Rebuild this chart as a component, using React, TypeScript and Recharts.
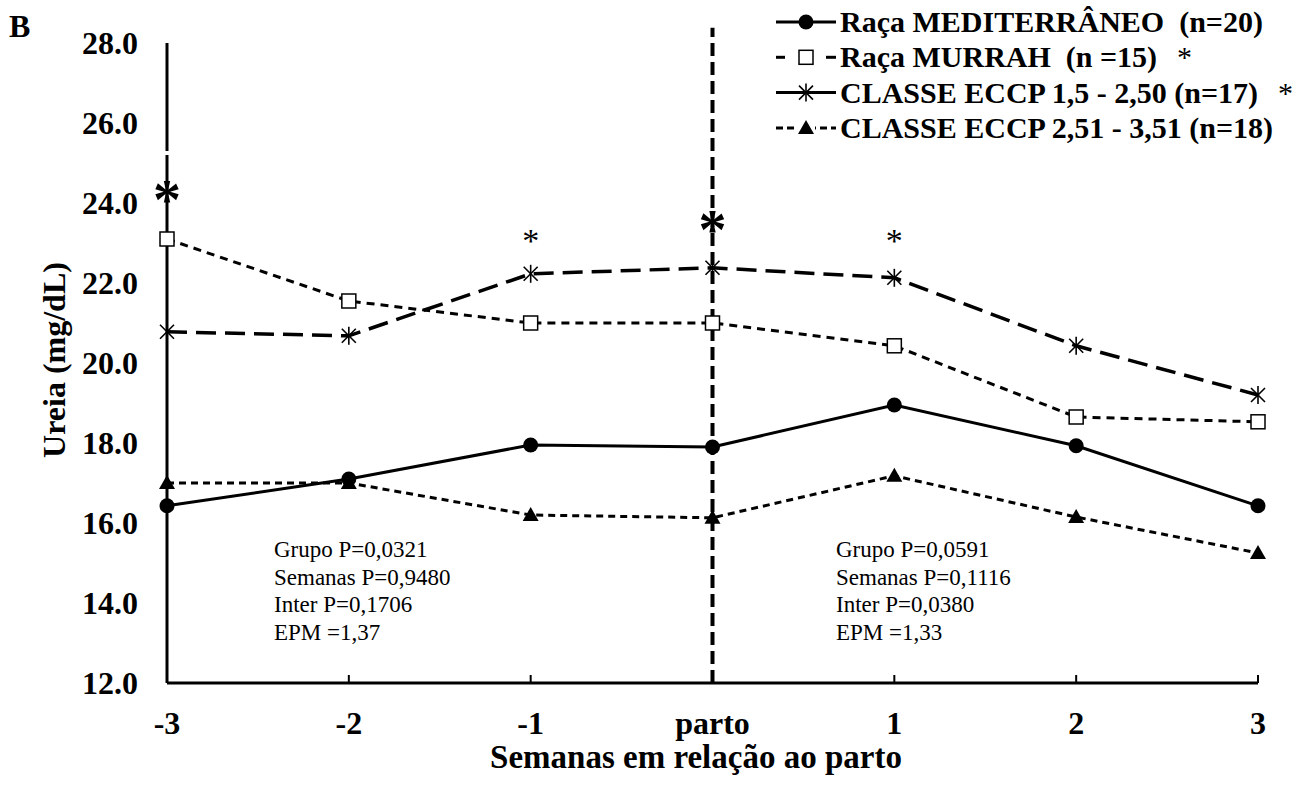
import React from 'react';
import { LineChart, Line, XAxis, YAxis, ReferenceLine, ReferenceDot, Legend, Label } from 'recharts';

const weeks = ['-3', '-2', '-1', 'parto', '1', '2', '3'];
const mediterraneo = [16.43, 17.1, 17.95, 17.9, 18.95, 17.93, 16.43];
const murrah = [23.1, 21.55, 21.0, 21.0, 20.43, 18.65, 18.53];
const eccp1 = [20.78, 20.68, 22.23, 22.38, 22.13, 20.43, 19.2];
const eccp2 = [17.0, 17.0, 16.2, 16.13, 17.18, 16.15, 15.25];
const yTicks = [12, 14, 16, 18, 20, 22, 24, 26, 28];
const seriesNames = [
  'Raça MEDITERRÂNEO\u00a0\u00a0(n=20)',
  'Raça MURRAH\u00a0\u00a0(n =15)',
  'CLASSE ECCP 1,5 - 2,50 (n=17)',
  'CLASSE ECCP 2,51 - 3,51 (n=18)',
];
const legendStars = [false, true, true, false];
const bigStars = [
  { x: '-3', y: 24.28 },
  { x: 'parto', y: 23.53 },
];
const smallStars = [
  { x: '-1', y: 23.18 },
  { x: '1', y: 23.18 },
];
const statsLeft = ['Grupo P=0,0321', 'Semanas P=0,9480', 'Inter P=0,1706', 'EPM =1,37'];
const statsRight = ['Grupo P=0,0591', 'Semanas P=0,1116', 'Inter P=0,0380', 'EPM =1,33'];
const panelLetter = 'B';
const xTitle = 'Semanas em relação ao parto';
const yTitle = 'Ureia (mg/dL)';

const FONT = '"Liberation Serif", "Times New Roman", serif';

const circleMark = (cx: number, cy: number, k: string) => (
  <circle key={k} cx={cx} cy={cy} r={7.5} fill="#000" />
);
const squareMark = (cx: number, cy: number, k: string) => (
  <rect key={k} x={cx - 7} y={cy - 7} width={14} height={14} fill="#fff" stroke="#000" strokeWidth={1.5} />
);
const starMark = (cx: number, cy: number, k: string) => (
  <g key={k} stroke="#000" strokeWidth={1.6}>
    <line x1={cx - 7} y1={cy - 7} x2={cx + 7} y2={cy + 7} />
    <line x1={cx - 7} y1={cy + 7} x2={cx + 7} y2={cy - 7} />
    <line x1={cx} y1={cy - 9} x2={cx} y2={cy + 9} />
  </g>
);
const triMark = (cx: number, cy: number, k: string) => (
  <polygon key={k} points={`${cx},${cy - 8} ${cx - 8},${cy + 6} ${cx + 8},${cy + 6}`} fill="#000" />
);

const markers = [circleMark, squareMark, starMark, triMark];
const dashes = [undefined, '8 6', '20 9', '7 5'];
const widths = [3, 3, 3.5, 3];

const renderLegend = () => (
  <svg width={541} height={150}>
    {seriesNames.map((name, i) => {
      const y = 22 + i * 35.3;
      return (
        <g key={name}>
          {i === 1 ? (
            <g stroke="#000" strokeWidth={3}>
              <line x1={6} x2={15} y1={y} y2={y} />
              <line x1={56} x2={66} y1={y} y2={y} />
            </g>
          ) : (
            <line x1={6} x2={66} y1={y} y2={y} stroke="#000" strokeWidth={3} strokeDasharray={i === 3 ? '7 4' : undefined} />
          )}
          {i === 3 ? <rect x={27} y={y - 9} width={18} height={18} fill="#fff" /> : null}
          {markers[i](36, y, 'm' + i)}
          <text x={70} y={y + 10} fontFamily={FONT} fontWeight="bold" fontSize={30} fill="#000">
            {name}
            {legendStars[i] ? (
              <tspan fontWeight="normal" dx={20}>*</tspan>
            ) : null}
          </text>
        </g>
      );
    })}
  </svg>
);

const bigStarShape = (p: any) => (
  <text x={p.cx} y={p.cy + 27} textAnchor="middle" fontFamily={FONT} fontWeight="bold" fontSize={56} fill="#000">*</text>
);
const smallStarShape = (p: any) => (
  <text x={p.cx} y={p.cy + 16} textAnchor="middle" fontFamily={FONT} fontSize={34} fill="#000">*</text>
);

export default function App() {
  const data = weeks.map((w, i) => ({
    week: w,
    med: mediterraneo[i],
    mur: murrah[i],
    e1: eccp1[i],
    e2: eccp2[i],
  }));
  const keys = ['med', 'mur', 'e1', 'e2'];
  return (
    <div style={{ position: 'absolute', left: 0, top: 0, width: 1311, height: 785, background: '#fff' }}>
      <LineChart width={1311} height={785} data={data} margin={{ top: 43, right: 53, bottom: 0, left: 0 }}>
        <XAxis
          dataKey="week"
          interval={0}
          height={102}
          axisLine={{ stroke: '#000', strokeWidth: 3 }}
          tickLine={{ stroke: '#000', strokeWidth: 2 }}
          tickSize={-8}
          tickMargin={36}
          tick={{ fill: '#000', fontSize: 32, fontWeight: 'bold', fontFamily: FONT }}
        >
          <Label
            content={(props: any) => {
              const vb = props.viewBox || {};
              return (
                <text x={696} y={(vb.y || 683) + 85} textAnchor="middle" fontFamily={FONT} fontWeight="bold" fontSize={33} fill="#000">
                  {xTitle}
                </text>
              );
            }}
          />
        </XAxis>
        <YAxis
          domain={[12, 28]}
          ticks={yTicks}
          width={167}
          axisLine={false}
          tickLine={false}
          tickSize={0}
          tickMargin={29}
          tickFormatter={(v: number) => v.toFixed(1)}
          tick={{ fill: '#000', fontSize: 32, fontWeight: 'bold', fontFamily: FONT }}
        >
          <Label
            content={() => (
              <text x={54} y={360} transform="rotate(-90, 54, 360)" textAnchor="middle" dominantBaseline="central" fontFamily={FONT} fontWeight="bold" fontSize={32} fill="#000">
                {yTitle}
              </text>
            )}
          />
        </YAxis>
        <ReferenceLine segment={[{ x: '-3', y: 12 }, { x: '-3', y: 25.2 }]} stroke="#000" strokeWidth={3} />
        <ReferenceLine segment={[{ x: '-3', y: 25.3 }, { x: '-3', y: 28 }]} stroke="#000" strokeWidth={3} />
        <ReferenceLine
          segment={[{ x: 'parto', y: 12 }, { x: 'parto', y: 28.38 }]}
          stroke="#000"
          strokeWidth={4}
          strokeDasharray="13 6"
          ifOverflow="visible"
        />
        {keys.map((k, i) => (
          <Line
            key={k}
            dataKey={k}
            name={seriesNames[i]}
            stroke="#000"
            strokeWidth={widths[i]}
            strokeDasharray={dashes[i]}
            isAnimationActive={false}
            dot={(p: any) => markers[i](p.cx, p.cy, k + p.index)}
            activeDot={false}
          />
        ))}
        {bigStars.map((s) => (
          <ReferenceDot key={'b' + s.x} x={s.x} y={s.y} r={0} shape={bigStarShape} />
        ))}
        {smallStars.map((s) => (
          <ReferenceDot key={'s' + s.x} x={s.x} y={s.y} r={0} shape={smallStarShape} />
        ))}
        <Legend
          layout="horizontal"
          verticalAlign="middle"
          align="center"
          wrapperStyle={{ position: 'absolute', top: 0, left: 770, width: 541, height: 150 }}
          content={renderLegend}
        />
      </LineChart>
      <svg style={{ position: 'absolute', left: 0, top: 0, pointerEvents: 'none' }} width={1311} height={785}>
        <text x={9} y={37} fontFamily={FONT} fontWeight="bold" fontSize={32} fill="#000">{panelLetter}</text>
        {statsLeft.map((t, i) => (
          <text key={'l' + i} x={274} y={557 + i * 27.6} fontFamily={FONT} fontSize={23} fill="#000">{t}</text>
        ))}
        {statsRight.map((t, i) => (
          <text key={'r' + i} x={836} y={557 + i * 27.6} fontFamily={FONT} fontSize={23} fill="#000">{t}</text>
        ))}
      </svg>
    </div>
  );
}
